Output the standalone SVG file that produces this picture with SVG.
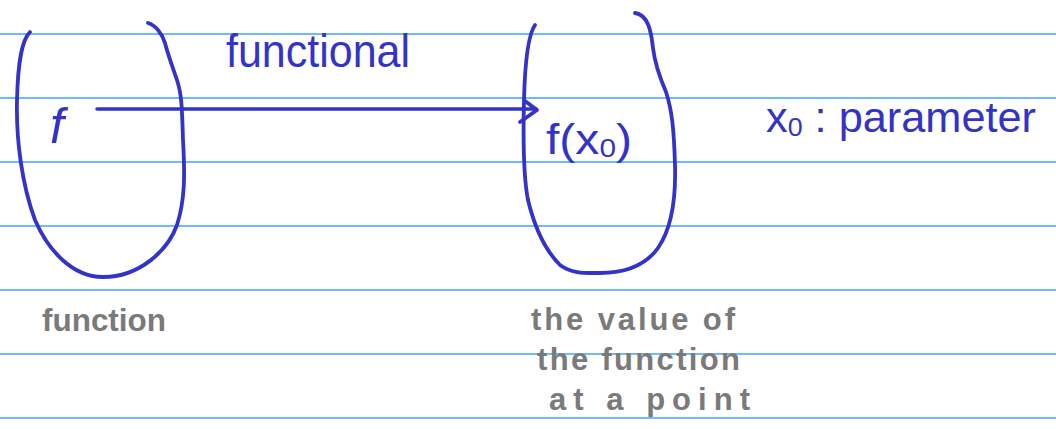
<svg xmlns="http://www.w3.org/2000/svg" width="1056" height="429" viewBox="0 0 1056 429">
<style>
.rule{stroke:#3ea2ff;stroke-width:1.5}
.ink{fill:none;stroke:#3333c8;stroke-width:3.8;stroke-linecap:round;stroke-linejoin:round}
.blue{fill:#3333c8;font-family:"Liberation Sans",sans-serif}
.gray{fill:#7a7a7a;font-family:"Liberation Sans",sans-serif;font-size:31px;font-weight:bold}
</style>
<rect width="1056" height="429" fill="#fff"/>
<g id="rules">
<line class="rule" x1="0" y1="34" x2="1056" y2="34"/>
<line class="rule" x1="0" y1="98" x2="1056" y2="98"/>
<line class="rule" x1="0" y1="162" x2="1056" y2="162"/>
<line class="rule" x1="0" y1="226" x2="1056" y2="226"/>
<line class="rule" x1="0" y1="290" x2="1056" y2="290"/>
<line class="rule" x1="0" y1="354" x2="1056" y2="354"/>
<line class="rule" x1="0" y1="418" x2="1056" y2="418"/>
</g>
<g id="function-set">
<path class="ink" d="M30,32 C22,40 18,60 17,100 C16,140 22,185 35,220 C48,250 72,277 103,277 C140,277 168,250 177,225 C185,200 185,175 183,140 C182,110 182,95 177,80 C172,65 168,55 165,43 C162,33 155,25 148,23"/>
<text class="blue" x="50" y="143" font-size="50" font-style="italic">f</text>
<text class="gray" x="42" y="331" textLength="124" lengthAdjust="spacingAndGlyphs">function</text>
</g>
<g id="value-set">
<path class="ink" d="M535,25 C528,35 525,60 524,100 C523,140 524,180 528,200 C534,225 545,250 560,265 C572,274 585,273 600,273 C625,273 645,266 658,248 C672,228 676,200 675,165 C674,130 672,110 666,92 C660,78 655,65 653,48 C651,30 648,15 635,13"/>
<text class="blue" x="546" y="154" font-size="42" textLength="86" lengthAdjust="spacingAndGlyphs">f(x<tspan font-size="26" dy="3">0</tspan><tspan dy="-3">)</tspan></text>
<text class="gray" x="531" y="330" textLength="204" lengthAdjust="spacing">the value of</text>
<text class="gray" x="537" y="370" textLength="203" lengthAdjust="spacing">the function</text>
<text class="gray" x="549" y="410" textLength="201" lengthAdjust="spacing">at a point</text>
</g>
<g id="parameter-note">
<text class="blue" x="766" y="132" font-size="42" textLength="270" lengthAdjust="spacingAndGlyphs">x<tspan font-size="26" dy="4">0</tspan><tspan dy="-4"> : parameter</tspan></text>
</g>
<g id="connectors">
<line x1="97" y1="109" x2="536" y2="109" stroke="#3333c8" stroke-width="3.5" stroke-linecap="round"/>
<path class="ink" d="M525,101 L537,110 L520,122"/>
<text class="blue" x="226" y="67" font-size="46" textLength="184" lengthAdjust="spacingAndGlyphs">functional</text>
</g>
</svg>
